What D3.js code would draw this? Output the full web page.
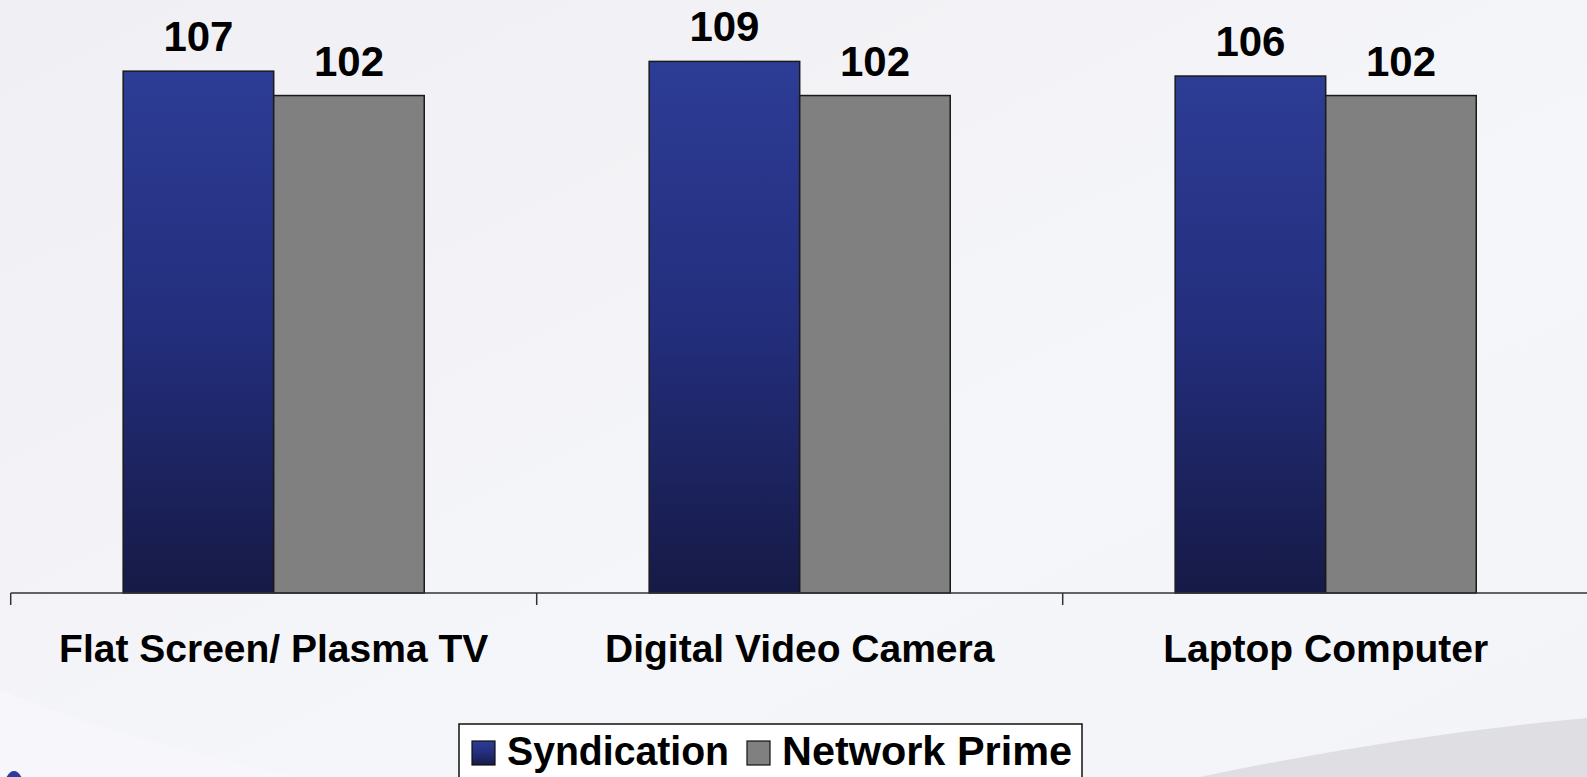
<!DOCTYPE html>
<html>
<head>
<meta charset="utf-8">
<script src="https://cdn.jsdelivr.net/npm/d3@7"></script>
<style>
  body { margin: 0; overflow: hidden; background: #f3f3f6; }
  text { font-family: "Liberation Sans", Arial, sans-serif; font-weight: bold; fill: #000; }
</style>
</head>
<body>
<div id="chart"></div>
<script>
// Data
var categories = ["Flat Screen/ Plasma TV", "Digital Video Camera", "Laptop Computer"];
var seriesNames = ["Syndication", "Network Prime"];
var syndication = [107, 109, 106];
var networkPrime = [102, 102, 102];

var rows = categories.map(function(c, i) {
    return { cat: c, values: [
        { key: seriesNames[0], value: syndication[i] },
        { key: seriesNames[1], value: networkPrime[i] }
    ]};
});

// Size settings
var width = 1587, height = 777;
var axisY = 593;

var svg = d3.select("#chart").append("svg")
    .attr("width", width)
    .attr("height", height);

var defs = svg.append("defs");

// background
var bg = defs.append("linearGradient").attr("id", "bg")
    .attr("x1", 0).attr("y1", 0).attr("x2", 1).attr("y2", 1);
bg.append("stop").attr("offset", "0%").attr("stop-color", "#f0eff3");
bg.append("stop").attr("offset", "60%").attr("stop-color", "#f5f6f9");
bg.append("stop").attr("offset", "100%").attr("stop-color", "#f3f4f8");

var blueGrad = defs.append("linearGradient").attr("id", "blueGrad")
    .attr("x1", 0).attr("y1", 0).attr("x2", 0).attr("y2", 1);
blueGrad.append("stop").attr("offset", "0%").attr("stop-color", "#2d3c95");
blueGrad.append("stop").attr("offset", "50%").attr("stop-color", "#232e7c");
blueGrad.append("stop").attr("offset", "100%").attr("stop-color", "#161a46");

svg.append("rect").attr("width", width).attr("height", height).attr("fill", "url(#bg)");

// decorative swooshes
svg.append("path")
    .attr("d", "M1200,777 Q1400,735 1587,718 L1587,777 Z")
    .attr("fill", "#dedee3");
svg.append("path")
    .attr("d", "M0,690 Q120,740 300,777 L0,777 Z")
    .attr("fill", "#f7f7fb");
svg.append("ellipse")
    .attr("cx", 14).attr("cy", 790).attr("rx", 10).attr("ry", 19)
    .attr("fill", "#2b3a9c");

// Scales
var x0 = d3.scaleBand()
    .domain(categories)
    .range([10.7, 10.7 + 526 * 3])
    .padding(0);

var x1 = d3.scaleBand()
    .domain(seriesNames)
    .range([0, x0.bandwidth()])
    .paddingInner(0)
    .paddingOuter(0.747);

var yScale = d3.scaleLinear()
    .domain([0, 120])
    .range([axisY, axisY - 120 * 4.877]);

var fills = { "Syndication": "url(#blueGrad)", "Network Prime": "#808080" };

// Bars
var groups = svg.selectAll(".group")
    .data(rows)
  .enter().append("g")
    .attr("class", "group")
    .attr("transform", function(d) { return "translate(" + x0(d.cat) + ",0)"; });

groups.selectAll("rect")
    .data(function(d) { return d.values; })
  .enter().append("rect")
    .attr("x", function(d) { return x1(d.key); })
    .attr("y", function(d) { return yScale(d.value); })
    .attr("width", x1.bandwidth())
    .attr("height", function(d) { return axisY - yScale(d.value); })
    .attr("fill", function(d) { return fills[d.key]; })
    .attr("stroke", "#1a1a1a")
    .attr("stroke-width", 1.5);

// value labels
groups.selectAll(".val")
    .data(function(d) { return d.values; })
  .enter().append("text")
    .attr("class", "val")
    .attr("x", function(d) { return x1(d.key) + x1.bandwidth() / 2; })
    .attr("y", function(d) { return yScale(d.value) - 20; })
    .attr("text-anchor", "middle")
    .style("font-size", "42px")
    .text(function(d) { return d.value; });

// Axis
var xAxis = d3.axisBottom(x0).tickSize(0).tickFormat("");
var axisG = svg.append("g")
    .attr("transform", "translate(0," + axisY + ")")
    .call(xAxis);
axisG.select(".domain")
    .attr("d", "M" + x0.range()[0] + ",0H" + x0.range()[1])
    .attr("stroke", "#333")
    .attr("stroke-width", 1.5);

svg.selectAll(".tickmark")
    .data(categories)
  .enter().append("line")
    .attr("class", "tickmark")
    .attr("x1", function(d) { return x0(d); })
    .attr("x2", function(d) { return x0(d); })
    .attr("y1", axisY)
    .attr("y2", axisY + 12)
    .attr("stroke", "#333")
    .attr("stroke-width", 1.5);

svg.selectAll(".catlabel")
    .data(categories)
  .enter().append("text")
    .attr("class", "catlabel")
    .attr("x", function(d) { return x0(d) + x0.bandwidth() / 2; })
    .attr("y", 662)
    .attr("text-anchor", "middle")
    .style("font-size", "39px")
    .text(function(d) { return d; });

// Legend
var legend = svg.append("g");
legend.append("rect")
    .attr("x", 459).attr("y", 724)
    .attr("width", 623).attr("height", 70)
    .attr("fill", "#fff")
    .attr("stroke", "#111")
    .attr("stroke-width", 1.5);

var legendItems = [
    { key: seriesNames[0], sx: 472, tx: 507, w: 222 },
    { key: seriesNames[1], sx: 747, tx: 782, w: 290 }
];
legend.selectAll(".sw")
    .data(legendItems)
  .enter().append("rect")
    .attr("class", "sw")
    .attr("x", function(d) { return d.sx; })
    .attr("y", 741)
    .attr("width", 23).attr("height", 24)
    .attr("fill", function(d) { return fills[d.key]; })
    .attr("stroke", "#111")
    .attr("stroke-width", 1.2);
legend.selectAll(".lt")
    .data(legendItems)
  .enter().append("text")
    .attr("class", "lt")
    .attr("x", function(d) { return d.tx; })
    .attr("y", 765)
    .attr("textLength", function(d) { return d.w; })
    .attr("lengthAdjust", "spacingAndGlyphs")
    .style("font-size", "40px")
    .text(function(d) { return d.key; });
</script>
</body>
</html>
